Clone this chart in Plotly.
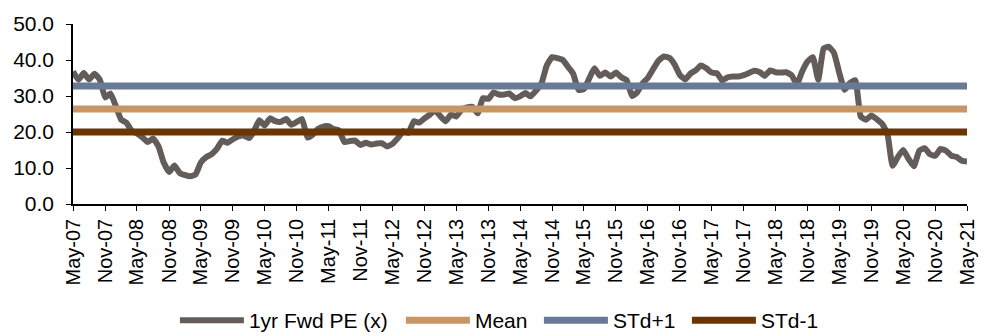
import plotly.graph_objects as go
import pandas as pd

# Monthly 1yr forward PE, May-07 .. May-21
pe_values = [
    36.8, 34.5, 36.4, 34.6, 36.2, 34.6, 29.6, 30.7, 27.2, 23.4,
    22.6, 20.3, 19.6, 18.5, 17.2, 18.2, 16.0, 11.5, 8.9, 10.7,
    8.6, 8.0, 7.7, 8.2, 11.5, 13.0, 13.8, 15.3, 17.6, 17.0,
    18.0, 18.8, 19.0, 18.3, 20.2, 23.3, 21.8, 23.8, 23.0, 22.8,
    23.6, 22.0, 22.8, 23.6, 18.5, 19.3, 20.8, 21.5, 21.6, 20.8,
    20.4, 17.2, 17.5, 17.6, 16.4, 17.0, 16.5, 16.8, 16.9, 16.0,
    16.7, 18.3, 20.2, 19.8, 23.0, 22.6, 23.8, 24.8, 26.0, 24.3,
    23.0, 24.8, 24.3, 26.2, 26.8, 27.0, 25.2, 29.4, 29.2, 31.0,
    30.4, 30.4, 30.7, 29.4, 29.9, 30.8, 29.9, 31.5, 33.5, 38.5,
    40.8, 40.5, 40.0, 38.0, 36.2, 31.7, 31.9, 34.9, 37.7, 35.6,
    36.5, 35.4, 36.5, 35.2, 34.4, 30.0, 31.0, 33.5, 35.0, 37.5,
    39.8, 41.0, 40.6, 38.8, 35.8, 34.6, 36.3, 37.2, 38.5, 37.7,
    36.5, 36.3, 34.3, 35.2, 35.4, 35.4, 35.8, 36.4, 37.0, 36.6,
    35.6, 37.1, 36.6, 36.5, 36.6, 35.8, 33.3, 36.8, 39.6, 40.8,
    34.5, 43.2, 43.7, 42.0, 36.5, 31.7, 33.6, 34.4, 24.3, 23.4,
    24.6, 23.6, 22.3, 19.5, 10.6, 13.1, 15.0, 12.5, 10.5, 14.8,
    15.5, 13.8, 13.4, 15.3, 14.8, 13.4, 13.1, 12.0, 11.8,
]
dates = pd.date_range("2007-05-01", periods=len(pe_values), freq="MS")

mean_value = 26.4
std_plus_value = 32.8
std_minus_value = 20.0

mean_line = [mean_value] * len(dates)
std_plus_line = [std_plus_value] * len(dates)
std_minus_line = [std_minus_value] * len(dates)

series_names = ["1yr Fwd PE (x)", "Mean", "STd+1", "STd-1"]
colors = ["#635C58", "#C89664", "#687A96", "#6B3502"]
legend_widths = [147, 59, 69, 60]

FONT = "Liberation Sans, Arial, sans-serif"

fig = go.Figure()
fig.add_trace(go.Scatter(x=dates, y=pe_values, mode="lines", name=series_names[0],
                         legendwidth=legend_widths[0],
                         line=dict(color=colors[0], width=6, shape="spline", smoothing=0.4)))
fig.add_trace(go.Scatter(x=dates, y=mean_line, mode="lines", name=series_names[1],
                         legendwidth=legend_widths[1],
                         line=dict(color=colors[1], width=7)))
fig.add_trace(go.Scatter(x=dates, y=std_plus_line, mode="lines", name=series_names[2],
                         legendwidth=legend_widths[2],
                         line=dict(color=colors[2], width=7)))
fig.add_trace(go.Scatter(x=dates, y=std_minus_line, mode="lines", name=series_names[3],
                         legendwidth=legend_widths[3],
                         line=dict(color=colors[3], width=7)))

fig.update_layout(
    width=984, height=328,
    margin=dict(l=65, r=25, t=16, b=132, autoexpand=False),
    paper_bgcolor="white", plot_bgcolor="white",
    font=dict(family=FONT, size=21, color="#000000"),
    showlegend=True,
    legend=dict(orientation="h", x=0.114, xanchor="left",
                yref="container", y=0.047, yanchor="middle",
                font=dict(size=21), itemwidth=64, bgcolor="rgba(0,0,0,0)",
                tracegroupgap=0),
    xaxis=dict(type="date", range=[dates[0], dates[-1]], tick0="2007-05-01", dtick="M6",
               tickformat="%b-%y", tickangle=-90, showline=True, linecolor="black",
               linewidth=1.5, ticks="outside", ticklen=5, tickcolor="black",
               showgrid=False, zeroline=False, tickfont=dict(size=20), automargin=False),
    yaxis=dict(range=[0, 50], dtick=10, tickformat=".1f", showline=True,
               linecolor="black", linewidth=1.5, ticks="outside", ticklen=5,
               tickcolor="black", showgrid=False, zeroline=False, automargin=False,
               ticklabelstandoff=8, tickfont=dict(size=21)),
)

fig.write_html("out.html")
